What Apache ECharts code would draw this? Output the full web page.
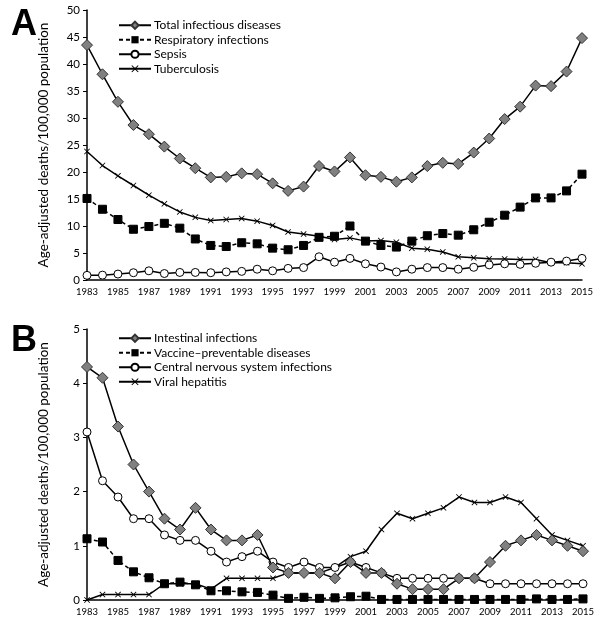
<!DOCTYPE html>
<html>
<head>
<meta charset="utf-8">
<script src="https://cdn.jsdelivr.net/npm/echarts@6/dist/echarts.min.js"></script>
<style>html,body{margin:0;padding:0;background:#fff}#c{width:600px;height:631px}</style>
</head>
<body>
<div id="c"></div>
<script>
const years = [];
for (let y = 1983; y <= 2015; y++) years.push(String(y));

const totalInfectious = [43.5,38.1,33.0,28.7,27.0,24.7,22.5,20.7,19.0,19.1,19.75,19.6,17.9,16.5,17.3,21.1,20.1,22.7,19.4,19.1,18.2,19.0,21.1,21.7,21.5,23.6,26.2,29.8,32.1,36.0,35.9,38.6,44.8];
const respiratory = [15.1,13.1,11.2,9.4,9.9,10.5,9.6,7.6,6.4,6.2,6.9,6.7,5.9,5.6,6.4,7.9,8.1,10.0,7.2,6.4,6.1,7.2,8.2,8.6,8.3,9.3,10.7,12.0,13.5,15.2,15.2,16.5,19.6];
const sepsis = [0.86,0.9,1.1,1.35,1.7,1.2,1.4,1.4,1.35,1.5,1.6,2.0,1.7,2.15,2.3,4.3,3.3,4.0,3.0,2.4,1.5,2.0,2.3,2.3,2.0,2.35,2.8,3.0,2.9,3.1,3.3,3.5,4.0];
const tuberculosis = [23.8,21.2,19.3,17.5,15.7,14.1,12.6,11.6,11.0,11.2,11.4,10.9,10.1,8.9,8.5,8.1,7.5,7.8,7.2,7.3,7.0,5.9,5.7,5.2,4.3,4.1,3.95,3.9,3.8,3.8,3.2,3.2,3.0];

const intestinal = [4.3,4.1,3.2,2.5,2.0,1.5,1.3,1.7,1.3,1.1,1.1,1.2,0.6,0.5,0.5,0.5,0.4,0.7,0.5,0.5,0.3,0.2,0.2,0.2,0.4,0.4,0.7,1.0,1.1,1.2,1.1,1.0,0.9];
const vaccinePreventable = [1.13,1.07,0.73,0.52,0.41,0.3,0.33,0.28,0.17,0.17,0.15,0.14,0.09,0.03,0.05,0.03,0.04,0.06,0.07,0.01,0.01,0.01,0.01,0.01,0.01,0.01,0.01,0.01,0.01,0.02,0.01,0.01,0.02];
const cns = [3.1,2.2,1.9,1.5,1.5,1.2,1.1,1.1,0.9,0.7,0.8,0.9,0.7,0.6,0.7,0.6,0.6,0.7,0.6,0.5,0.4,0.4,0.4,0.4,0.4,0.4,0.3,0.3,0.3,0.3,0.3,0.3,0.3];
const viralHepatitis = [0,0.1,0.1,0.1,0.1,0.3,0.3,0.3,0.2,0.4,0.4,0.4,0.4,0.5,0.5,0.5,0.6,0.8,0.9,1.3,1.6,1.5,1.6,1.7,1.9,1.8,1.8,1.9,1.8,1.5,1.2,1.1,1.0];

const yTicksA = {min:0, max:50, interval:5};
const yTicksB = {min:0, max:5, interval:1};

const FONT = 'Lato';
const XMARK = 'path://M0,1L1,0L5,4L9,0L10,1L6,5L10,9L9,10L5,6L1,10L0,9L4,5Z';

function xAxis(gi){
  return {
    type:'category', gridIndex:gi, data:years, boundaryGap:false,
    axisLine:{lineStyle:{color:'#000',width:1.5}},
    axisTick:{show:false},
    axisLabel:{interval:1, color:'#000', fontFamily:FONT, fontSize:9.5, margin:7}
  };
}
function yAxis(gi, t){
  return {
    type:'value', gridIndex:gi, min:t.min, max:t.max, interval:t.interval,
    name:'Age-adjusted deaths/100,000 population', nameLocation:'middle', nameGap:36,
    nameTextStyle:{color:'#000', fontFamily:FONT, fontSize:13.5},
    axisLine:{show:true, lineStyle:{color:'#000',width:1.5}},
    axisTick:{show:true, length:4, lineStyle:{color:'#000'}},
    splitLine:{show:false},
    axisLabel:{color:'#000', fontFamily:FONT, fontSize:11.5, margin:7}
  };
}
function ser(name, data, idx, kind){
  const s = {name, type:'line', data, xAxisIndex:idx, yAxisIndex:idx,
    lineStyle:{color:'#000', width:1.5}, showSymbol:true, showAllSymbol:true, animation:false, z:2};
  if (kind==='diamond'){ s.symbol='diamond'; s.symbolSize=11; s.itemStyle={color:'#808080', borderColor:'#333', borderWidth:1}; s.z=5; }
  if (kind==='square'){ s.symbol='rect'; s.symbolSize=8; s.itemStyle={color:'#000', borderColor:'#000'}; s.lineStyle.type=[4,3]; s.z=4; }
  if (kind==='circle'){ s.symbol='circle'; s.symbolSize=8; s.itemStyle={color:'#fff', borderColor:'#000', borderWidth:1}; s.z=3; }
  if (kind==='x'){ s.symbol=XMARK; s.symbolSize=6; s.itemStyle={color:'#000'}; s.z=2; }
  return s;
}

const legendText = {fontFamily:FONT, fontSize:12, color:'#000', lineHeight:14.5, padding:[0,0,0,-2]};

const chart = echarts.init(document.getElementById('c'), null, {renderer:'canvas'});
chart.setOption({
  backgroundColor:'#fff',
  animation:false,
  title:[
    {text:'A', left:6, top:2, textStyle:{fontFamily:'Liberation Sans', fontWeight:'bold', fontSize:36, color:'#000'}},
    {text:'B', left:6, top:318, textStyle:{fontFamily:'Liberation Sans', fontWeight:'bold', fontSize:36, color:'#000'}}
  ],
  grid:[
    {left:87, right:18, top:10, height:270},
    {left:87, right:17, top:329, height:271}
  ],
  legend:[
    {orient:'vertical', left:118, top:18, padding:0, itemWidth:32, itemHeight:9, itemGap:0,
     textStyle:legendText,
     data:['Total infectious diseases','Respiratory infections','Sepsis','Tuberculosis']},
    {orient:'vertical', left:118, top:331, padding:0, itemWidth:32, itemHeight:9, itemGap:0,
     textStyle:legendText,
     data:['Intestinal infections','Vaccine\u2013preventable diseases','Central nervous system infections','Viral hepatitis']}
  ],
  xAxis:[xAxis(0), xAxis(1)],
  yAxis:[yAxis(0, yTicksA), yAxis(1, yTicksB)],
  series:[
    ser('Total infectious diseases', totalInfectious, 0, 'diamond'),
    ser('Respiratory infections', respiratory, 0, 'square'),
    ser('Sepsis', sepsis, 0, 'circle'),
    ser('Tuberculosis', tuberculosis, 0, 'x'),
    ser('Intestinal infections', intestinal, 1, 'diamond'),
    ser('Vaccine\u2013preventable diseases', vaccinePreventable, 1, 'square'),
    ser('Central nervous system infections', cns, 1, 'circle'),
    ser('Viral hepatitis', viralHepatitis, 1, 'x')
  ]
});
</script>
</body>
</html>
